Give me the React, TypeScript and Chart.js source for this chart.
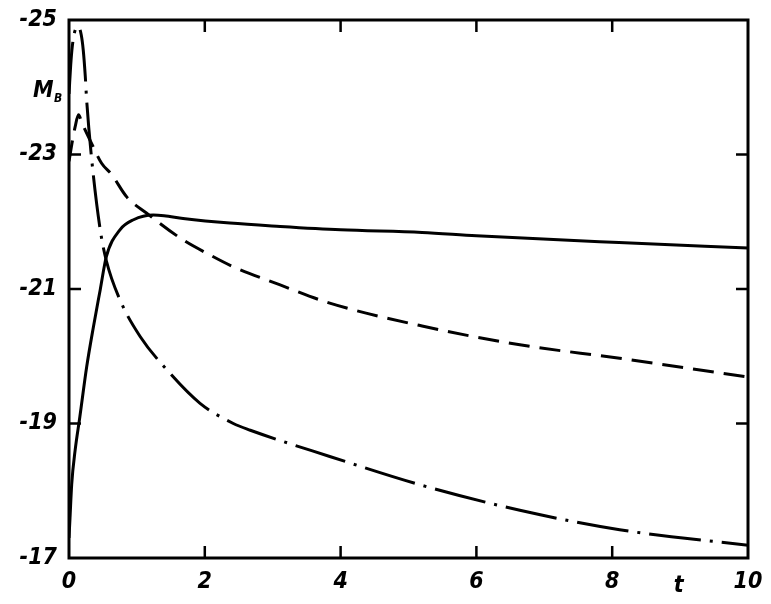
import React, { useEffect, useRef } from "react";
import { Chart, registerables } from "chart.js";

Chart.register(...registerables);

// Solid curve
const tSolid = [0, 0.015, 0.04, 0.09, 0.16, 0.26, 0.36, 0.46, 0.55, 0.75, 0.95, 1.24, 1.4, 1.68, 2.37, 3.11, 4.0, 5.2, 6.0, 8.1, 10];
const mSolid = [-17.3, -17.6, -18.1, -18.6, -19.1, -19.84, -20.44, -20.99, -21.48, -21.88, -22.03, -22.1, -22.09, -22.05, -21.98, -21.93, -21.88, -21.84, -21.79, -21.69, -21.61];

// Dashed curve
const tDashed = [0, 0.05, 0.09, 0.14, 0.19, 0.33, 0.48, 0.63, 0.85, 1.14, 1.68, 2.05, 2.42, 3.11, 3.84, 5.2, 6.64, 8.11, 10];
const mDashed = [-22.9, -23.2, -23.41, -23.59, -23.47, -23.17, -22.87, -22.7, -22.37, -22.13, -21.73, -21.52, -21.33, -21.06, -20.79, -20.45, -20.17, -19.97, -19.69];

// Dash-dot curve
const tDashDot = [0, 0.03, 0.06, 0.1, 0.14, 0.18, 0.21, 0.24, 0.26, 0.33, 0.46, 0.55, 0.75, 1.05, 1.44, 1.93, 2.42, 2.67, 3.84, 5.2, 6.64, 8.11, 10];
const mDashDot = [-23.9, -24.4, -24.7, -24.87, -24.9, -24.78, -24.55, -24.16, -23.81, -22.97, -21.88, -21.42, -20.84, -20.29, -19.8, -19.3, -19.0, -18.9, -18.51, -18.08, -17.71, -17.42, -17.19];

// Tick labels
const xTicks = [0, 2, 4, 6, 8, 10];
const yTicks = [-25, -23, -21, -19, -17];
const xAxisLabel = "t";
const yAxisLabel = "M";
const yAxisSub = "B";

const FONT_FAMILY = '"Liberation Sans Narrow", "DejaVu Sans Condensed", "Liberation Sans", sans-serif';

const toPoints = (xs: number[], ys: number[]) => xs.map((x, i) => ({ x, y: ys[i] }));

const framePlugin = {
  id: "frameTicks",
  afterDatasetsDraw(chart: any) {
    const { ctx, chartArea } = chart;
    const xs = chart.scales.x;
    const ys = chart.scales.y;
    const { left, right, top, bottom } = chartArea;
    ctx.save();
    ctx.strokeStyle = "#000";
    ctx.lineWidth = 3;
    ctx.strokeRect(left, top, right - left, bottom - top);
    const tl = 12;
    ctx.lineWidth = 2.5;
    ctx.beginPath();
    xTicks.slice(1, -1).forEach((v) => {
      const px = xs.getPixelForValue(v);
      ctx.moveTo(px, bottom);
      ctx.lineTo(px, bottom - tl);
      ctx.moveTo(px, top);
      ctx.lineTo(px, top + tl);
    });
    yTicks.slice(1, -1).forEach((v) => {
      const py = ys.getPixelForValue(v);
      ctx.moveTo(left, py);
      ctx.lineTo(left + tl, py);
      ctx.moveTo(right, py);
      ctx.lineTo(right - tl, py);
    });
    ctx.stroke();

    ctx.fillStyle = "#000";
    ctx.textBaseline = "alphabetic";
    ctx.font = `italic bold 23px ${FONT_FAMILY}`;
    const tx = xs.getPixelForValue(8.98);
    ctx.textAlign = "center";
    ctx.fillText(xAxisLabel, tx, 592);
    ctx.textAlign = "left";
    ctx.fillText(yAxisLabel, 33, 97);
    ctx.font = `italic bold 12px ${FONT_FAMILY}`;
    ctx.fillText(yAxisSub, 54, 102);
    ctx.restore();
  },
};

export default function App() {
  const ref = useRef<HTMLCanvasElement | null>(null);

  useEffect(() => {
    if (!ref.current) return;
    const lineBase = {
      borderColor: "#000",
      borderWidth: 3,
      pointRadius: 0,
      fill: false,
      cubicInterpolationMode: "monotone" as const,
      borderCapStyle: "butt" as const,
    };
    const tickFont = { family: FONT_FAMILY, size: 23, weight: "bold" as const, style: "italic" as const };
    const chart = new Chart(ref.current, {
      type: "line",
      data: {
        datasets: [
          { ...lineBase, label: "solid", data: toPoints(tSolid, mSolid) },
          { ...lineBase, label: "dashed", data: toPoints(tDashed, mDashed), borderDash: [21, 10] },
          { ...lineBase, label: "dashdot", data: toPoints(tDashDot, mDashDot), borderDash: [52, 9, 3, 9] },
        ],
      },
      options: {
        animation: false,
        responsive: false,
        events: [],
        layout: { padding: { top: 20, right: 23, left: 0, bottom: 0 } },
        plugins: { legend: { display: false }, tooltip: { enabled: false } },
        scales: {
          x: {
            type: "linear",
            min: 0,
            max: 10,
            grid: { display: false, drawTicks: false },
            border: { display: false },
            afterBuildTicks: (s: any) => {
              s.ticks = xTicks.map((v) => ({ value: v }));
            },
            afterFit: (s: any) => {
              s.height = 46;
              s.paddingLeft = 0;
              s.paddingRight = 0;
            },
            ticks: {
              color: "#000",
              padding: 10,
              maxRotation: 0,
              font: tickFont,
            },
          },
          y: {
            type: "linear",
            min: -25,
            max: -17,
            reverse: true,
            grid: { display: false, drawTicks: false },
            border: { display: false },
            afterBuildTicks: (s: any) => {
              s.ticks = yTicks.map((v) => ({ value: v }));
            },
            afterFit: (s: any) => {
              s.width = 69;
              s.paddingTop = 0;
              s.paddingBottom = 0;
            },
            ticks: {
              color: "#000",
              padding: 12,
              font: tickFont,
            },
          },
        },
      },
      plugins: [framePlugin],
    });
    return () => chart.destroy();
  }, []);

  return (
    <div style={{ position: "absolute", left: 0, top: 0, width: 771, height: 604, background: "#fff" }}>
      <canvas ref={ref} width={771} height={604} style={{ display: "block" }} />
    </div>
  );
}
